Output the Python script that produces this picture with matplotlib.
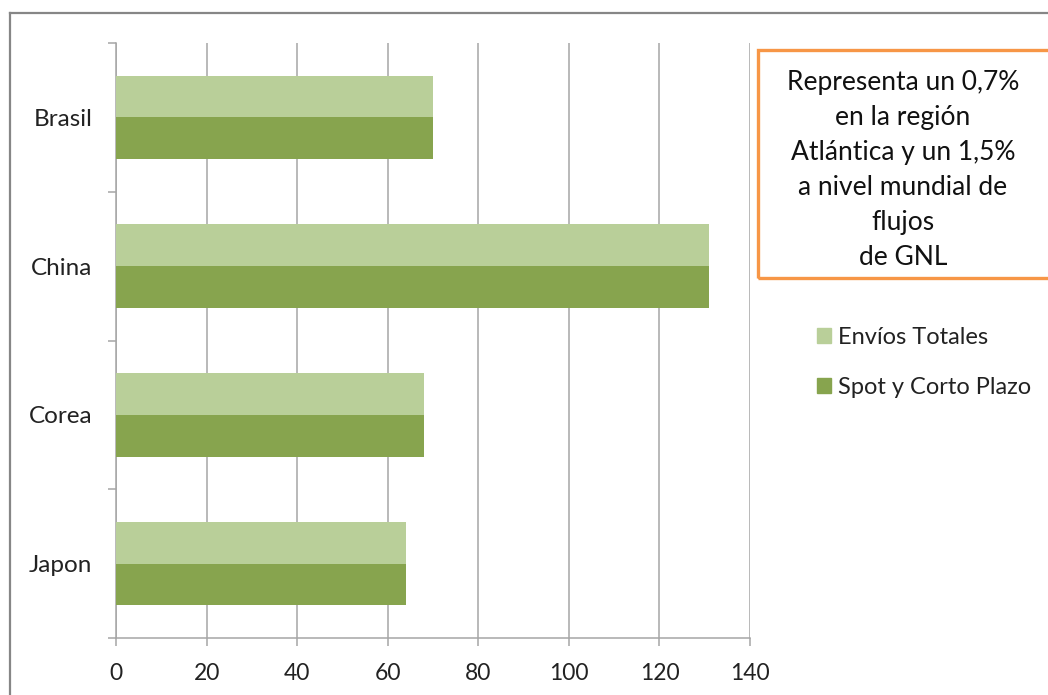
import matplotlib
matplotlib.use("Agg")
import matplotlib.pyplot as plt
from matplotlib.lines import Line2D
from matplotlib.patches import Rectangle

plt.rcParams['font.family'] = ['Lato', 'DejaVu Sans']

categories = ["Brasil", "China", "Corea", "Japon"]
envios_totales = [70, 131, 68, 64]
spot_corto_plazo = [70, 131, 68, 64]
series_names = ["Envíos Totales", "Spot y Corto Plazo"]
x_ticks = [0, 20, 40, 60, 80, 100, 120, 140]
note_text = ("Representa un 0,7%\nen la región\nAtlántica y un 1,5%\n"
             "a nivel mundial de\nflujos\nde GNL")

light = "#B9CF99"
dark = "#87A44E"
grid_gray = "#A6A6A6"

W, H = 1048, 695
fig = plt.figure(figsize=(W / 100, H / 100), dpi=100)

def fx(px):
    return px / W

def fy(py):
    return 1 - py / H

# outer chart frame (left and top edges visible)
fig.add_artist(Line2D([fx(10), fx(10)], [fy(13), 0], color="#868686", lw=1.6,
                      transform=fig.transFigure))
fig.add_artist(Line2D([fx(10), 1], [fy(13), fy(13)], color="#868686", lw=1.6,
                      transform=fig.transFigure))

ax = fig.add_axes([fx(116), fy(638), fx(750) - fx(116), fy(43) - fy(638)])

pos = list(range(len(categories)))
bh = 0.28
ax.barh([p - bh / 2 for p in pos], envios_totales, height=bh, color=light,
        label=series_names[0], zorder=3)
ax.barh([p + bh / 2 for p in pos], spot_corto_plazo, height=bh, color=dark,
        label=series_names[1], zorder=3)

ax.set_xlim(0, 140)
ax.set_ylim(len(categories) - 0.5, -0.5)
ax.set_xticks(x_ticks)
ax.set_xticklabels([str(t) for t in x_ticks], fontsize=16.5, color="#222222")
ax.grid(axis="x", color=grid_gray, lw=1.1, zorder=0)

# category separators as major ticks, labels on minor ticks
ax.set_yticks([p - 0.5 for p in pos] + [len(categories) - 0.5])
ax.set_yticklabels([])
ax.set_yticks(pos, minor=True)
ax.set_yticklabels(categories, minor=True, fontsize=17.5, color="#222222")
ax.tick_params(axis="y", which="minor", length=0, pad=17)
ax.tick_params(axis="y", which="major", length=6, color=grid_gray, width=1.1)
ax.tick_params(axis="x", length=6, color=grid_gray, width=1.1, pad=12)

for s in ["top", "right"]:
    ax.spines[s].set_visible(False)
for s in ["left", "bottom"]:
    ax.spines[s].set_color(grid_gray)
    ax.spines[s].set_linewidth(1.1)

# note box
fig.add_artist(Rectangle((fx(758), fy(278)), fx(1060) - fx(758), fy(50) - fy(278),
                         transform=fig.transFigure, fill=False,
                         edgecolor="#F79646", lw=2.4))
fig.text(fx(903), fy(170), note_text, ha="center", va="center", fontsize=19,
         color="#111111", linespacing=1.5)

# legend
handles = [Rectangle((0, 0), 1, 1, color=light), Rectangle((0, 0), 1, 1, color=dark)]
fig.legend(handles, series_names, loc="upper left",
           bbox_to_anchor=(fx(796), fy(306)), frameon=False, fontsize=17,
           handlelength=0.6, handleheight=0.6, handletextpad=0.3,
           labelspacing=1.2, labelcolor="#222222")

fig.savefig("out.png", dpi=100)
